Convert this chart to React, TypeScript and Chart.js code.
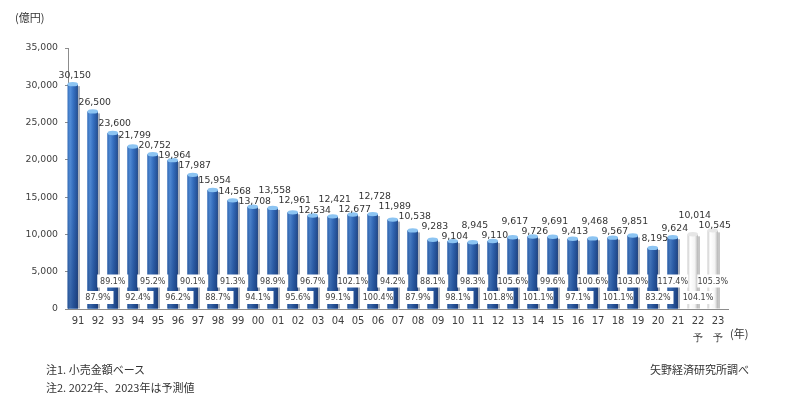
import React, { useEffect, useRef } from "react";
import { Chart, registerables } from "chart.js";

Chart.register(...registerables);

const categories = [
  "91", "92", "93", "94", "95", "96", "97", "98", "99", "00", "01",
  "02", "03", "04", "05", "06", "07", "08", "09", "10", "11", "12",
  "13", "14", "15", "16", "17", "18", "19", "20", "21", "22", "23",
];
const forecastYears = ["22", "23"];
const forecastMark = "予";

const marketSize = [
  30150, 26500, 23600, 21799, 20752, 19964, 17987, 15954, 14568, 13708, 13558,
  12961, 12534, 12421, 12677, 12728, 11989, 10538, 9283, 9104, 8945, 9110,
  9617, 9726, 9691, 9413, 9468, 9567, 9851, 8195, 9624, 10014, 10545,
];

const yoyRatio = [
  null, 87.9, 89.1, 92.4, 95.2, 96.2, 90.1, 88.7, 91.3, 94.1, 98.9,
  95.6, 96.7, 99.1, 102.1, 100.4, 94.2, 87.9, 88.1, 98.1, 98.3, 101.8,
  105.6, 101.1, 99.6, 97.1, 100.6, 101.1, 103.0, 83.2, 117.4, 104.1, 105.3,
];

const yTicks = [0, 5000, 10000, 15000, 20000, 25000, 30000, 35000];

const unitLabel = "(億円)";
const yearLabel = "(年)";
const note1 = "注1. 小売金額ベース";
const note2 = "注2. 2022年、2023年は予測値";
const source = "矢野経済研究所調べ";

const NUM_FONT = "'DejaVu Sans', Verdana, sans-serif";
const JP_FONT = "'Noto Sans CJK JP', sans-serif";

const isForecast = (i: number) => forecastYears.includes(categories[i]);
const fmt = (v: number) => v.toLocaleString("en-US");

const decorPlugin = {
  id: "decor",
  afterDatasetsDraw(chart: any) {
    const ctx: CanvasRenderingContext2D = chart.ctx;
    const meta = chart.getDatasetMeta(0);
    const area = chart.chartArea;
    const xs = chart.scales.x;
    ctx.save();

    const els = meta.data.map((el: any) =>
      el.getProps(["x", "y", "base", "width"], true)
    );

    // 3D-like shading of bars
    els.forEach((p: any, i: number) => {
      const { x, y, base, width } = p;
      const left = x - width / 2;
      const right = x + width / 2;
      const fc = isForecast(i);
      ctx.fillStyle = fc ? "rgba(160,160,160,0.6)" : "rgba(95,110,135,0.55)";
      ctx.fillRect(right, y + 2, 2, base - y - 2);
      const g = ctx.createLinearGradient(left, 0, right, 0);
      if (fc) {
        g.addColorStop(0, "#c8c8c8");
        g.addColorStop(0.25, "#ffffff");
        g.addColorStop(0.7, "#f4f4f4");
        g.addColorStop(1, "#b4b4b4");
      } else {
        g.addColorStop(0, "#3a74c0");
        g.addColorStop(0.25, "#5592de");
        g.addColorStop(0.55, "#3874c6");
        g.addColorStop(0.9, "#2858a0");
        g.addColorStop(1, "#33558a");
      }
      ctx.fillStyle = g;
      ctx.fillRect(left, y, width, base - y);
      if (!fc) {
        const v = ctx.createLinearGradient(0, area.top, 0, area.bottom);
        v.addColorStop(0, "rgba(10,30,80,0)");
        v.addColorStop(0.6, "rgba(10,30,80,0.1)");
        v.addColorStop(1, "rgba(10,30,80,0.4)");
        ctx.fillStyle = v;
        ctx.fillRect(left, y, width, base - y);
      }
      ctx.beginPath();
      ctx.ellipse(x, y, width / 2, 2.2, 0, 0, Math.PI * 2);
      ctx.fillStyle = fc ? "#e6e6e6" : "#8cc4f2";
      ctx.fill();
    });

    // value labels with simple collision avoidance
    const S = 10;
    const DEF = 9;
    const MINC = 5;
    const ys: number[] = [];
    els.forEach((p: any, i: number) => {
      const top = p.y;
      let y = top - DEF;
      if (i > 0 && Math.abs(y - ys[i - 1]) < S) {
        if (ys[i - 1] <= y) {
          const want = ys[i - 1] + S;
          if (want <= top - MINC) {
            y = want;
          } else {
            y = top - MINC;
            ys[i - 1] = y - S;
            for (let j = i - 1; j > 0; j--) {
              if (Math.abs(ys[j] - ys[j - 1]) < S) ys[j - 1] = ys[j] - S;
              else break;
            }
          }
        } else {
          y = ys[i - 1] - S;
        }
      }
      ys.push(y);
    });
    ctx.font = `9.3px ${NUM_FONT}`;
    ctx.fillStyle = "#333333";
    ctx.textAlign = "center";
    ctx.textBaseline = "middle";
    els.forEach((p: any, i: number) => {
      ctx.fillText(fmt(marketSize[i]), p.x + 2, ys[i]);
    });

    // year-on-year boxes
    ctx.font = `8px ${NUM_FONT}`;
    yoyRatio.forEach((r, i) => {
      if (r === null) return;
      const low = i % 2 === 1;
      const cx = low ? xs.getPixelForValue(i) : els[i].x;
      const cy = low ? area.bottom - 11.5 : area.bottom - 28;
      const w = 31;
      const h = 13;
      ctx.fillStyle = "#ffffff";
      ctx.fillRect(cx - w / 2, cy - h / 2, w, h);
      ctx.fillStyle = "#404040";
      ctx.fillText(`${r.toFixed(1)}%`, cx, cy + 0.5);
    });

    ctx.restore();
  },
};

export default function App() {
  const canvasRef = useRef<HTMLCanvasElement | null>(null);

  useEffect(() => {
    const canvas = canvasRef.current;
    if (!canvas) return;
    const labels = categories.map((c) =>
      forecastYears.includes(c) ? [c, forecastMark] : c
    );
    const chart = new Chart(canvas, {
      type: "bar",
      data: {
        labels,
        datasets: [
          {
            data: marketSize,
            backgroundColor: marketSize.map((_, i) =>
              isForecast(i) ? "#ffffff" : "#3a78ca"
            ),
            borderWidth: 0,
            categoryPercentage: 1.05,
            barPercentage: 1,
          },
          {
            data: marketSize.map(() => null),
            backgroundColor: "transparent",
            categoryPercentage: 1.05,
            barPercentage: 1,
          },
        ],
      },
      options: {
        responsive: false,
        animation: false,
        devicePixelRatio: 1,
        layout: { padding: { left: 0, top: 48, right: 61, bottom: 0 } },
        plugins: {
          legend: { display: false },
          tooltip: { enabled: false },
        },
        scales: {
          x: {
            grid: { display: false },
            border: { display: true, color: "#8c8c8c", width: 1 },
            ticks: {
              autoSkip: false,
              maxRotation: 0,
              minRotation: 0,
              padding: -4,
              color: "#404040",
              font: { family: NUM_FONT, size: 10, lineHeight: 1.7 },
            },
            afterFit: (s: any) => {
              s.height = 91;
            },
          },
          y: {
            min: 0,
            max: 35000,
            afterBuildTicks: (s: any) => {
              s.ticks = yTicks.map((v) => ({ value: v }));
            },
            grid: {
              display: true,
              drawOnChartArea: false,
              drawTicks: true,
              tickLength: 3,
              color: "#8c8c8c",
            },
            border: { display: true, color: "#8c8c8c", width: 1 },
            ticks: {
              padding: 7,
              color: "#404040",
              font: { family: NUM_FONT, size: 9.3 },
              callback: (v: any) => fmt(Number(v)),
            },
            afterFit: (s: any) => {
              s.width = 68;
            },
          },
        },
      },
      plugins: [decorPlugin],
    });
    return () => chart.destroy();
  }, []);

  const txt: React.CSSProperties = {
    position: "absolute",
    fontFamily: JP_FONT,
    fontSize: "11px",
    lineHeight: "14px",
    color: "#333333",
    whiteSpace: "nowrap",
  };

  return (
    <div
      style={{
        position: "fixed",
        left: 0,
        top: 0,
        width: 789,
        height: 400,
        background: "#ffffff",
      }}
    >
      <canvas ref={canvasRef} width={789} height={400} style={{ display: "block" }} />
      <div style={{ ...txt, left: 15, top: 10 }}>{unitLabel}</div>
      <div style={{ ...txt, left: 730, top: 326 }}>{yearLabel}</div>
      <div style={{ ...txt, left: 46, top: 362 }}>{note1}</div>
      <div style={{ ...txt, left: 46, top: 380 }}>{note2}</div>
      <div style={{ ...txt, left: 650, top: 362 }}>{source}</div>
    </div>
  );
}
